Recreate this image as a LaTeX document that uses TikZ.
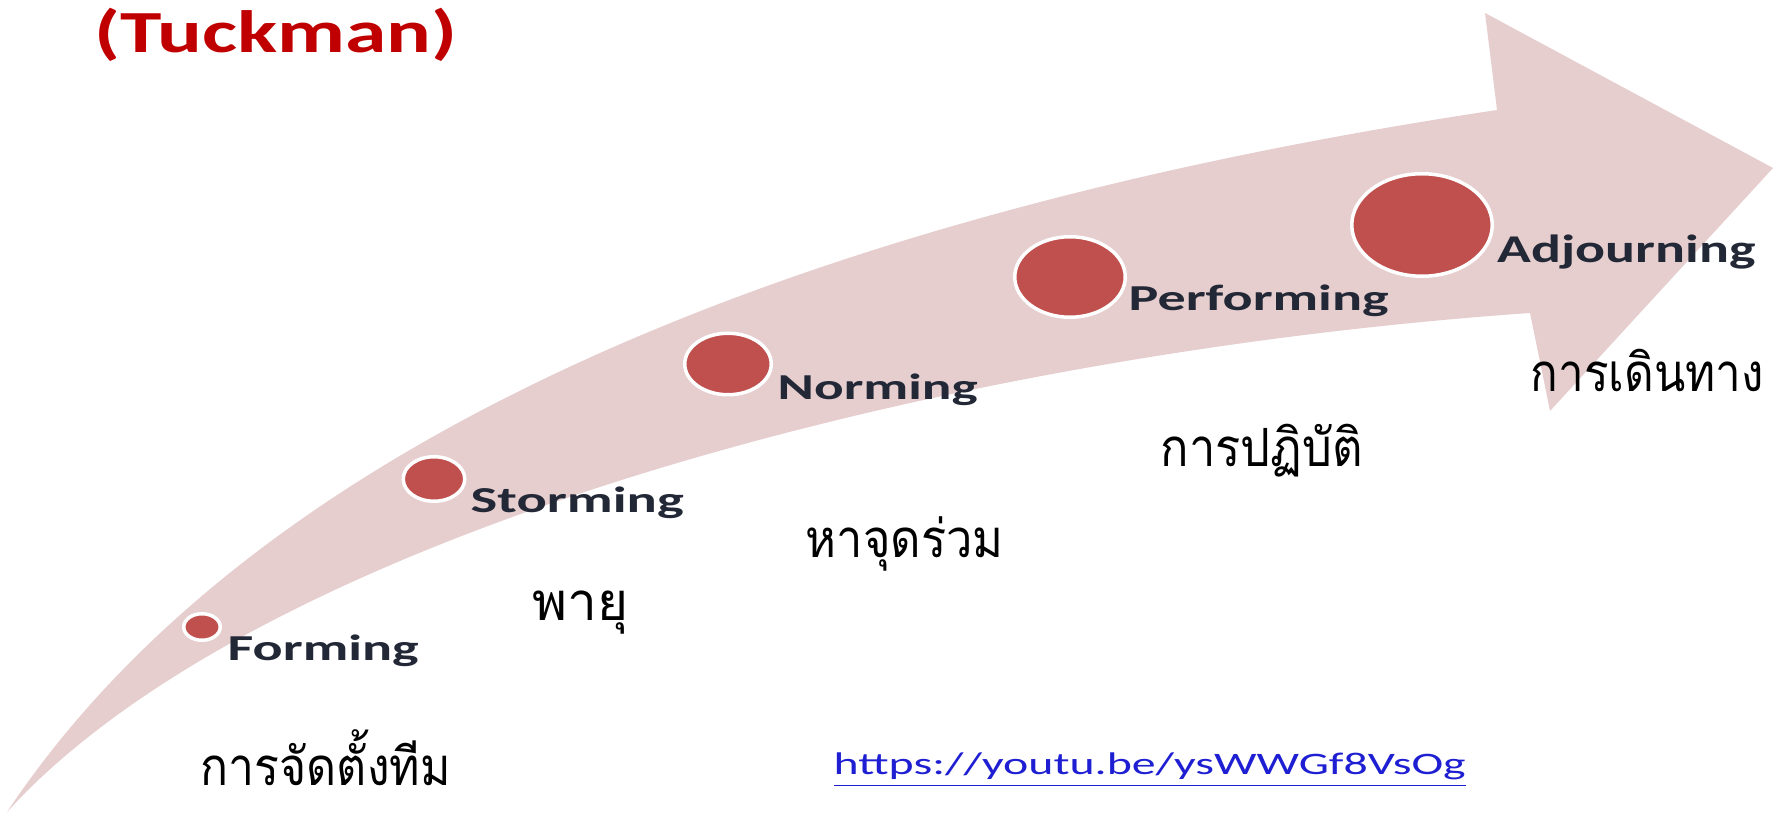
\documentclass[tikz,border=0pt]{standalone}
\usepackage{fontspec}
\usepackage{graphicx}
\usetikzlibrary{shapes.geometric}
\newfontfamily\lblfont{Carlito}
\newfontfamily\thaifont[Script=Thai]{Loma}
\definecolor{bandpink}{RGB}{230,206,207}
\definecolor{dotred}{RGB}{192,80,77}
\definecolor{lbltext}{RGB}{35,40,55}
\definecolor{titlered}{RGB}{192,0,0}
\definecolor{urlblue}{RGB}{30,30,210}
\newcommand{\fitw}[2]{\resizebox{#1}{\height}{#2}}
\tikzset{
  stagedot/.style={ellipse, fill=dotred, draw=white, line width=0.35mm, inner sep=0pt},
  stagelbl/.style={anchor=base west, inner sep=0pt, text=lbltext, font=\lblfont\bfseries\fontsize{10.4pt}{12pt}\selectfont},
  thailbl/.style={anchor=base west, inner sep=0pt, text=black, font=\thaifont\fontsize{15pt}{18pt}\selectfont},
}
\begin{document}
\begin{tikzpicture}[x=0.1mm, y=-0.1mm]
\useasboundingbox (0,0) rectangle (1774,814);
% curved arrow
\fill[bandpink] (7,812) .. controls (307,362) and (997,185) .. (1497,110)
  -- (1485,13) -- (1773,168) -- (1550,411) -- (1530,313)
  .. controls (930,355) and (257,537) .. (7,812) -- cycle;
% title
\node[anchor=base west, inner sep=0pt, text=titlered, font=\lblfont\bfseries\fontsize{17pt}{20pt}\selectfont] (title) at (94,53) {\fitw{36.3mm}{(Tuckman)}};
% dots
\node[stagedot, minimum width=3.65mm, minimum height=2.65mm] (d1) at (202,627) {};
\node[stagedot, minimum width=6.15mm, minimum height=4.45mm] (d2) at (434,479) {};
\node[stagedot, minimum width=8.65mm, minimum height=6.15mm] (d3) at (728,364) {};
\node[stagedot, minimum width=11.05mm, minimum height=8.05mm] (d4) at (1070,277) {};
\node[stagedot, minimum width=14.05mm, minimum height=10.25mm] (d5) at (1422,225) {};
% stage labels
\node[stagelbl] (l1) at (227,660) {\fitw{19.1mm}{Forming}};
\node[stagelbl] (l2) at (470,513) {\fitw{21.3mm}{Storming}};
\node[stagelbl] (l3) at (777,400) {\fitw{20.0mm}{Norming}};
\node[stagelbl] (l4) at (1128,311) {\fitw{26.0mm}{Performing}};
\node[stagelbl, font=\lblfont\bfseries\fontsize{11.2pt}{13pt}\selectfont] (l5) at (1497,263) {\fitw{25.8mm}{Adjourning}};
% thai labels
\node[thailbl] (t1) at (200,785) {\fitw{25.0mm}{การจัดตั้งทีม}};
\node[thailbl] (t2) at (532,620) {\fitw{9.6mm}{พายุ}};
\node[thailbl] (t3) at (805,557) {\fitw{19.8mm}{หาจุดร่วม}};
\node[thailbl] (t4) at (1160,467) {\fitw{20.2mm}{การปฏิบัติ}};
\node[thailbl] (t5) at (1530,392) {\fitw{23.3mm}{การเดินทาง}};
% url
\node[anchor=base west, inner sep=0pt, text=urlblue, font=\lblfont\fontsize{8.9pt}{11pt}\selectfont] (url) at (833,775) {\fitw{63.2mm}{\underline{https://youtu.be/ysWWGf8VsOg}}};
\end{tikzpicture}
\end{document}
